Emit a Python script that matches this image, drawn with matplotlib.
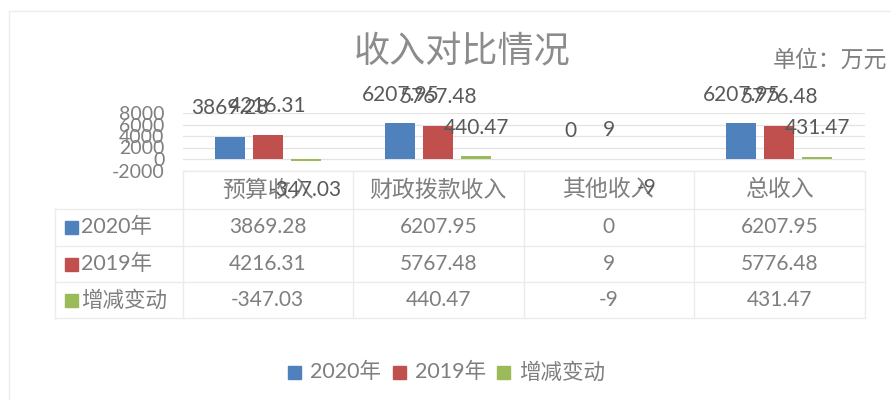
import matplotlib
matplotlib.use("Agg")
import matplotlib.pyplot as plt
from matplotlib.transforms import blended_transform_factory
from matplotlib.lines import Line2D
from matplotlib.patches import Rectangle

categories = ["预算收入", "财政拨款收入", "其他收入", "总收入"]
series_names = ["2020年", "2019年", "增减变动"]
v2020 = [3869.28, 6207.95, 0, 6207.95]
v2019 = [4216.31, 5767.48, 9, 5776.48]
vdiff = [-347.03, 440.47, -9, 431.47]
labels2020 = ["3869.28", "6207.95", "0", "6207.95"]
labels2019 = ["4216.31", "5767.48", "9", "5776.48"]
labelsdiff = ["-347.03", "440.47", "-9", "431.47"]
yticks = [-2000, 0, 2000, 4000, 6000, 8000]

colors = ["#4F81BD", "#C0504D", "#9BBB59"]
W, H = 891, 400
fig = plt.figure(figsize=(W / 100, H / 100), dpi=100)
fig.patch.set_facecolor("white")

NUM = ["Lato", "Noto Sans CJK SC", "DejaVu Sans"]
CJK = ["Noto Sans CJK SC", "DejaVu Sans"]
grey = "#7F7F7F"
dark = "#595959"

def fx(px):
    return px / W

def fy(py):
    return 1 - py / H

# faint chart frame
fig.add_artist(Line2D([fx(9), 1], [fy(11), fy(11)], color="#EDEDED", lw=1))
fig.add_artist(Line2D([fx(9), fx(9)], [fy(11), 0], color="#EDEDED", lw=1))

left, right = 182.5, 864.5
top, bot = 113.0, 170.5
ax = fig.add_axes([fx(left), fy(bot), fx(right) - fx(left), fy(top) - fy(bot)])
ax.set_xlim(-0.5, 3.5)
ax.set_ylim(-2000, 8000)
ax.set_yticks(yticks)
ax.set_yticklabels([str(t) for t in yticks], family=NUM, fontsize=14, color=grey)
ax.tick_params(axis="y", length=0, pad=13)
ax.set_xticks([])
for s in ax.spines.values():
    s.set_visible(False)
ax.grid(axis="y", color="#E3E3E3", lw=0.9)
ax.set_axisbelow(True)

bw = 30 / 170.5
off = 38 / 170.5
x = list(range(len(categories)))
all_vals = [v2020, v2019, vdiff]
all_lab = [labels2020, labels2019, labelsdiff]
for k, (vals, labs) in enumerate(zip(all_vals, all_lab)):
    xs = [i + (k - 1) * off for i in x]
    ax.bar(xs, vals, width=bw, color=colors[k], zorder=2)
    for xi, v, lab in zip(xs, vals, labs):
        dy = 20.5 if v >= 0 else -21
        ax.annotate(lab, (xi, v), xytext=(0, dy), textcoords="offset points",
                    ha="center", va="center", fontsize=15, color=dark,
                    family=NUM, annotation_clip=False, zorder=5)

# data table
tr = blended_transform_factory(ax.transData, fig.transFigure)
rows_y = [170.5, 208.5, 245.5, 281.5, 317.5]
line_c = "#EBEBEB"
fig.add_artist(Line2D([fx(left), fx(right)], [fy(rows_y[0])] * 2, color=line_c, lw=1))
for ry in rows_y[1:]:
    fig.add_artist(Line2D([fx(55), fx(right)], [fy(ry)] * 2, color=line_c, lw=1))
fig.add_artist(Line2D([fx(55), fx(55)], [fy(rows_y[1]), fy(rows_y[-1])], color=line_c, lw=1))
for b in [-0.5, 0.5, 1.5, 2.5, 3.5]:
    ax.add_artist(Line2D([b, b], [fy(rows_y[0]), fy(rows_y[-1])], transform=tr,
                         color=line_c, lw=1, clip_on=False))

for i, c in enumerate(categories):
    ax.text(i, fy(190), c, transform=tr, ha="center", va="center",
            fontsize=16.5, color=grey, family=CJK, fontweight="light", clip_on=False)
row_centers = [227, 264, 300]
for k, labs in enumerate(all_lab):
    yc = row_centers[k]
    for i, lab in enumerate(labs):
        ax.text(i, fy(yc), lab, transform=tr, ha="center", va="center",
                fontsize=15, color=grey, family=NUM, clip_on=False)
    fig.add_artist(Rectangle((fx(65), fy(yc + 6.5)), fx(13), 13 / H,
                             color=colors[k], transform=fig.transFigure))
    fig.text(fx(81), fy(yc), series_names[k], ha="left", va="center",
             fontsize=15.5, color=grey, family=NUM)

# title and unit
fig.text(fx(462), fy(51), "收入对比情况", ha="center", va="center",
         fontsize=26, color="#8C8C8C", family=CJK, fontweight="light")
fig.text(fx(887), fy(60), "单位：万元", ha="right", va="center",
         fontsize=16.5, color=grey, family=CJK, fontweight="light")

# legend
leg_sq = [288, 393, 497]
for k in range(3):
    fig.add_artist(Rectangle((fx(leg_sq[k]), fy(372 + 6.5)), fx(13), 13 / H,
                             color=colors[k], transform=fig.transFigure))
    fig.text(fx(leg_sq[k] + 22), fy(372), series_names[k], ha="left", va="center",
             fontsize=15.5, color=grey, family=NUM)

fig.savefig("out.png", dpi=100, facecolor="white")
